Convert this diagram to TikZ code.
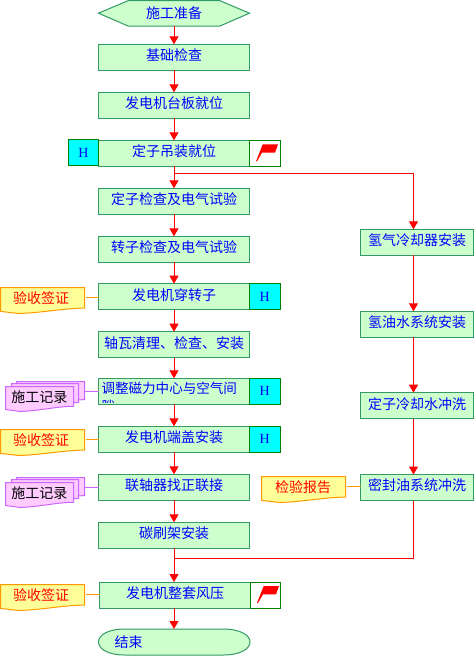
\documentclass[tikz,border=0pt]{standalone}
\usepackage{fontspec}
\setmainfont{Liberation Serif}
\newfontfamily\cjk{Noto Sans CJK SC}
\definecolor{boxfill}{HTML}{CCFFCC}
\definecolor{boxline}{HTML}{339966}
\definecolor{hgreen}{HTML}{008000}
\definecolor{hfill}{HTML}{00FFFF}
\definecolor{docfill}{HTML}{FFFF99}
\definecolor{docline}{HTML}{FF9900}
\definecolor{recfill}{HTML}{FFCCFF}
\definecolor{recline}{HTML}{CC66FF}
\definecolor{pureblue}{HTML}{0000FF}
\definecolor{purered}{HTML}{FF0000}
\newcommand\T[1]{\raisebox{-3.3pt}[0pt][0pt]{#1}}
\newcommand\U[1]{\raisebox{-5.3pt}[0pt][0pt]{#1}}
\usetikzlibrary{arrows.meta}
\tikzset{
  x=1pt,y=-1pt,
  every node/.style={inner sep=0pt,outer sep=0pt},
  txt/.style={font=\cjk\fontsize{14}{16}\selectfont,text=pureblue},
  stepbox/.style={txt,draw=boxline,fill=boxfill,line width=1pt,minimum width=151pt,minimum height=26pt},
  sidebox/.style={txt,draw=boxline,fill=boxfill,line width=1pt,minimum width=113pt,minimum height=26pt},
  hbox/.style={draw=hgreen,fill=hfill,line width=1pt,minimum width=30.5pt,minimum height=26pt,text=pureblue,font=\fontsize{14}{16}\selectfont},
  flagbox/.style={draw=hgreen,fill=white,line width=1pt,minimum width=30.5pt,minimum height=26pt},
  flow/.style={draw=purered,line width=1pt,-{Triangle[width=9pt,length=8pt,fill=purered]}},
  plain/.style={draw=purered,line width=1pt},
  docshape/.style={draw=docline,fill=docfill,line width=1pt},
  recshape/.style={draw=recline,fill=recfill,line width=1pt},
  doclink/.style={draw=docline,line width=1pt},
  reclink/.style={draw=recline,line width=1pt},
  doctext/.style={font=\cjk\fontsize{14}{16}\selectfont,text=purered},
  rectext/.style={font=\cjk\fontsize{14}{16}\selectfont,text=black},
}
\newcommand\wavy[5]{% style, left x, top y, width, height
  \path[#1] (#2,#3) -- (#2+#4,#3) -- (#2+#4,#3+#5*0.79)
    .. controls (#2+#4*0.75,#3+#5*0.80) and (#2+#4*0.5,#3+#5*0.97) .. (#2+#4*0.22,#3+#5)
    -- (#2,#3+#5*0.92) -- cycle;}
\newcommand\flagat[2]{% centre of box
  \fill[purered] (#1-2.3,#2-9) -- (#1+13,#2-9) -- (#1+10,#2-0.6) -- (#1-3,#2-0.6)
     -- (#1-8,#2+8) -- (#1-9,#2+8) -- cycle;}
\begin{document}
\begin{tikzpicture}
\useasboundingbox (0,0) rectangle (474,656);
% main steps
\path[draw=boxline,fill=boxfill,line width=1pt] (98.5,13.2) -- (128.5,0.5) -- (219.5,0.5) -- (249.5,13.2) -- (219.5,26.2) -- (128.5,26.2) -- cycle;
\node[txt,minimum width=151pt,minimum height=26pt] (start) at (174,13.3) {\raisebox{-5pt}[0pt][0pt]{施工准备}};
\node[stepbox] (base) at (174,57.3) {\T{基础检查}};
\node[stepbox] (plate) at (174,105.3) {\T{发电机台板就位}};
\node[stepbox] (stator) at (174,153.3) {\T{定子吊装就位}};
\node[stepbox] (scheck) at (174,201.3) {\T{定子检查及电气试验}};
\node[stepbox] (rcheck) at (174,249.3) {\T{转子检查及电气试验}};
\node[stepbox] (thread) at (174,296.7) {\T{发电机穿转子}};
\node[stepbox] (bearing) at (174,344.7) {\T{轴瓦清理、检查、安装}};
\node[stepbox] (center) at (174,391.3) {};
\node[stepbox] (cover) at (174,439.3) {\T{发电机端盖安装}};
\node[stepbox] (couple) at (174,487.3) {\T{联轴器找正联接}};
\node[stepbox] (brush) at (174,535.3) {\T{碳刷架安装}};
\node[stepbox,minimum width=151pt] (final) at (175,595) {\T{发电机整套风压}};
% clipped wrapped text of the adjust step
\begin{scope}
  \clip (99,378.8) rectangle (249,402.6);
  \node[txt,anchor=west] (centertext) at (101.5,388.5) {\fontsize{13.55}{16}\selectfont\U{调整磁力中心与空气间}};
  \node[txt,anchor=west] (centermore) at (101.5,406) {\fontsize{13.55}{16}\selectfont\U{隙}};
\end{scope}
% end
\path[draw=boxline,fill=boxfill,line width=1pt] (125,629) -- (223,629) .. controls (240,629) and (250,635) .. (250,642) .. controls (250,649) and (240,655) .. (223,655) -- (125,655) .. controls (108,655) and (98.5,649) .. (98.5,642) .. controls (98.5,635) and (108,629) .. (125,629) -- cycle;
\node[txt,minimum width=151pt,minimum height=26pt] (finish) at (174.3,642) {};
\node[txt,anchor=west] (finishtext) at (114.5,642.5) {\U{结束}};
% H and flag marks
\node[hbox] (h1) at (83.5,152.5) {\raisebox{-1.5pt}{H}};
\node[flagbox] (f1) at (265,153.3) {};
\flagat{265}{153.3}
\node[hbox] (h2) at (264.8,296.7) {\raisebox{-1pt}{H}};
\node[hbox] (h3) at (264.8,391.3) {\raisebox{-1pt}{H}};
\node[hbox] (h4) at (264.8,439.3) {\raisebox{-1pt}{H}};
\node[flagbox] (f2) at (265.5,595) {};
\flagat{266}{595}
% right column
\node[sidebox] (h2cool) at (417,242.3) {\T{氢气冷却器安装}};
\node[sidebox] (oilwater) at (417,324.3) {\T{氢油水系统安装}};
\node[sidebox] (wash) at (417,405.7) {\T{定子冷却水冲洗}};
\node[sidebox] (seal) at (417,487.5) {\T{密封油系统冲洗}};
% flow
\draw[flow] (start.south) -- (base.north);
\draw[flow] (base.south) -- (plate.north);
\draw[flow] (plate.south) -- (stator.north);
\draw[flow] (stator.south) -- (scheck.north);
\draw[flow] (scheck.south) -- (rcheck.north);
\draw[flow] (rcheck.south) -- (thread.north);
\draw[flow] (thread.south) -- (bearing.north);
\draw[flow] (bearing.south) -- (center.north);
\draw[flow] (center.south) -- (cover.north);
\draw[flow] (cover.south) -- (couple.north);
\draw[flow] (couple.south) -- (brush.north);
\draw[flow] (brush.south) -- (brush.south |- final.north);
\draw[flow] (final.south -| brush.south) -- (brush.south |- finish.north);
\coordinate (j1) at (174,173.5);
\coordinate (j2) at (174,558);
\coordinate (cx) at (413.5,0);
\draw[plain] (j1) -- (j1 -| cx);
\draw[flow] (j1 -| cx) -- (cx |- h2cool.north);
\draw[flow] (cx |- h2cool.south) -- (cx |- oilwater.north);
\draw[flow] (cx |- oilwater.south) -- (cx |- wash.north);
\draw[flow] (cx |- wash.south) -- (cx |- seal.north);
\draw[plain] (cx |- seal.south) -- (cx |- j2) -- (j2);
% sign-off documents
\wavy{docshape}{0.5}{287.5}{84}{26}
\node[doctext] (sign1) at (41,297.7) {\U{验收签证}};
\draw[doclink] (86,297.5) -- (thread.west |- 0,297.5);
\wavy{docshape}{0.5}{429.5}{84}{26}
\node[doctext] (sign2) at (41,439.7) {\U{验收签证}};
\draw[doclink] (86,439.5) -- (cover.west |- 0,439.5);
\wavy{docshape}{0.5}{584.5}{84}{26}
\node[doctext] (sign3) at (41,594.7) {\U{验收签证}};
\draw[doclink] (86,594.5) -- (final.west |- 0,594.5);
\wavy{docshape}{261.5}{476.5}{84}{26}
\node[doctext] (report) at (303,487) {\U{检验报告}};
\draw[doclink] (347,486.5) -- (seal.west |- 0,486.5);
% records
\wavy{recshape}{16.5}{381.5}{68}{23}
\wavy{recshape}{11.5}{383.5}{67}{24}
\wavy{recshape}{5.5}{386.5}{68}{25}
\node[rectext] (rec1) at (39.5,397.5) {\U{施工记录}};
\draw[reclink] (85,391.5) -- (center.west |- 0,391.5);
\wavy{recshape}{16.5}{477.5}{68}{23}
\wavy{recshape}{11.5}{479.5}{67}{24}
\wavy{recshape}{5.5}{482.5}{68}{25}
\node[rectext] (rec2) at (39.5,493) {\U{施工记录}};
\draw[reclink] (85,487.5) -- (couple.west |- 0,487.5);
\end{tikzpicture}
\end{document}
